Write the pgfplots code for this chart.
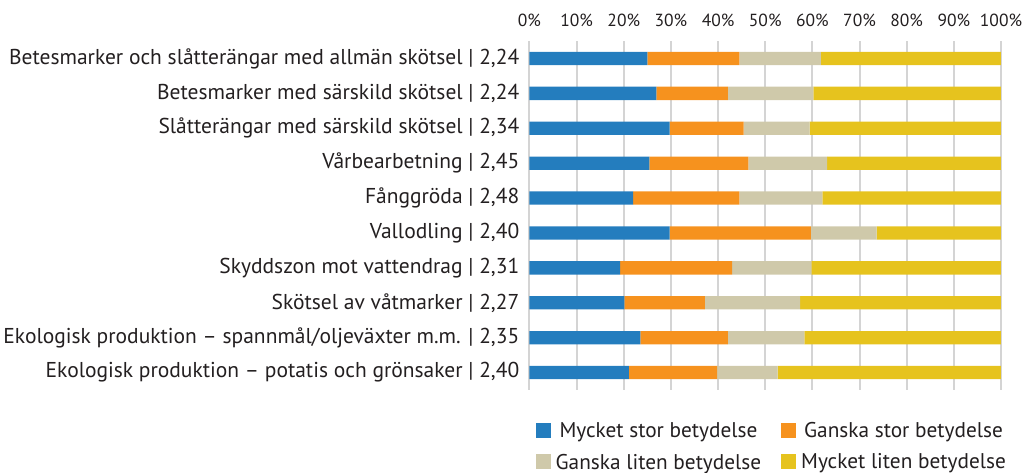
\documentclass[border=0pt]{standalone}
\usepackage{fontspec}
\setmainfont{PT Sans}
\usepackage{pgfplots}
\usepackage{pgfplotstable}
\pgfplotsset{compat=1.18}
\definecolor{cA}{HTML}{247DBE}
\definecolor{cB}{HTML}{F6921E}
\definecolor{cC}{HTML}{CFC9AA}
\definecolor{cD}{HTML}{E6C31E}
\definecolor{gridc}{HTML}{D4D4D4}
\definecolor{txt}{HTML}{231F20}
\pgfplotstableread{
y a b c d
0 25.0 19.5 17.3 38.2
1 26.9 15.2 18.1 39.8
2 29.7 15.7 14.0 40.6
3 25.4 21.0 16.7 36.9
4 22.0 22.5 17.6 37.9
5 29.7 30.0 13.9 26.4
6 19.2 23.8 16.8 40.2
7 20.1 17.1 20.2 42.6
8 23.5 18.6 16.2 41.7
9 21.1 18.7 12.8 47.4
}\datatable
\begin{document}
\begin{tikzpicture}
\begin{axis}[
  scale only axis,
  width=471.5pt, height=349pt,
  xbar stacked,
  bar width=13.3pt,
  xmin=0, xmax=100,
  ymin=-0.5, ymax=9.5,
  y dir=reverse,
  xtick={0,10,...,100},
  xticklabel={\pgfmathprintnumber{\tick}\%},
  xticklabel pos=upper,
  ytick={0,...,9},
  yticklabels={
    {Betesmarker och slåtterängar med allmän skötsel | 2,24},
    {Betesmarker med särskild skötsel | 2,24},
    {Slåtterängar med särskild skötsel | 2,34},
    {Vårbearbetning | 2,45},
    {Fånggröda | 2,48},
    {Vallodling | 2,40},
    {Skyddszon mot vattendrag | 2,31},
    {Skötsel av våtmarker | 2,27},
    {Ekologisk produktion – spannmål/oljeväxter m.m. | 2,35},
    {Ekologisk produktion – potatis och grönsaker | 2,40}},
  /pgf/number format/assume math mode=true,
  xticklabel style={font=\fontsize{17.5}{20}\selectfont, text=txt, inner ysep=0pt, yshift=14pt},
  yticklabel style={font=\fontsize{21.5}{24}\selectfont, text=txt, inner xsep=0pt, xshift=-10pt},
  major tick length=0pt,
  axis line style={draw=none},
  xmajorgrids,
  grid style={draw=gridc, line width=2pt},
  legend columns=2,
  legend style={at={(axis description cs:0,0)}, anchor=north west, draw=none,
    font=\fontsize{21.3}{24}\selectfont, text=txt, xshift=3pt, yshift=-28pt,
    /tikz/every odd column/.append style={column sep=3pt},
    /tikz/every even column/.append style={column sep=18pt},
    row sep=11pt},
  legend image code/.code={\fill[#1] (0pt,-7pt) rectangle (15pt,8pt);},
]
\addplot[fill=cA, draw=none] table[x=a, y=y] {\datatable};
\addplot[fill=cB, draw=none] table[x=b, y=y] {\datatable};
\addplot[fill=cC, draw=none] table[x=c, y=y] {\datatable};
\addplot[fill=cD, draw=none] table[x=d, y=y] {\datatable};
\legend{Mycket stor betydelse, Ganska stor betydelse, Ganska liten betydelse, Mycket liten betydelse}
\end{axis}
\pgfresetboundingbox
\path[use as bounding box] (-529.5pt,-82pt) rectangle (493.5pt,390pt);
\end{tikzpicture}
\end{document}
